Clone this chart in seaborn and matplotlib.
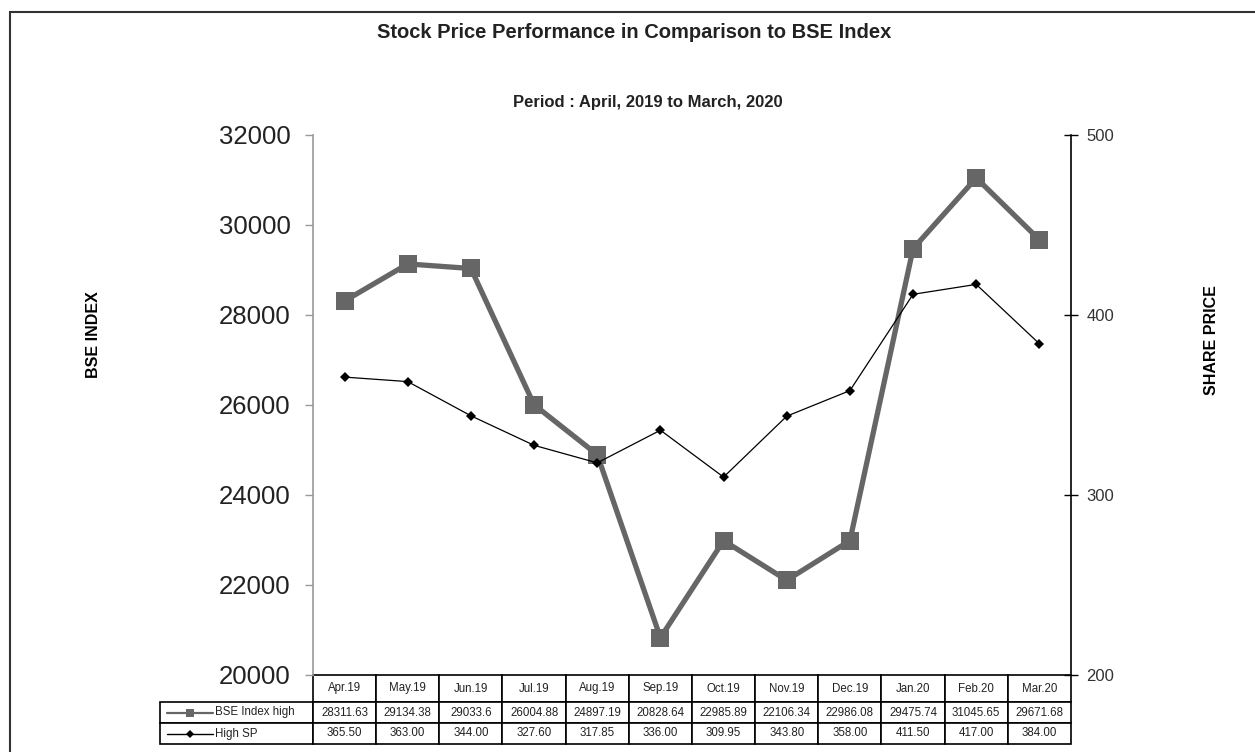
import seaborn as sns
import matplotlib.pyplot as plt
from matplotlib.patches import Rectangle
from matplotlib.lines import Line2D
import pandas as pd

#### data
months = ['Apr.19', 'May.19', 'Jun.19', 'Jul.19', 'Aug.19', 'Sep.19',
          'Oct.19', 'Nov.19', 'Dec.19', 'Jan.20', 'Feb.20', 'Mar.20']
bse_high = [28311.63, 29134.38, 29033.6, 26004.88, 24897.19, 20828.64,
            22985.89, 22106.34, 22986.08, 29475.74, 31045.65, 29671.68]
bse_text = ['28311.63', '29134.38', '29033.6', '26004.88', '24897.19', '20828.64',
            '22985.89', '22106.34', '22986.08', '29475.74', '31045.65', '29671.68']
high_sp = [365.50, 363.00, 344.00, 327.60, 317.85, 336.00,
           309.95, 343.80, 358.00, 411.50, 417.00, 384.00]
left_ticks = [20000, 22000, 24000, 26000, 28000, 30000, 32000]
right_ticks = [200, 300, 400, 500]

df = pd.DataFrame({'month': months, 'pos': range(len(months)),
                   'bse': bse_high, 'sp': high_sp})

sns.set_style('white')
plt.rcParams['font.family'] = ['Liberation Sans', 'DejaVu Sans']

W, H = 1255, 752
fig = plt.figure(figsize=(W / 100, H / 100), dpi=100)
L, R, T, B = 313, 1071, 135, 675
ax = fig.add_axes([L / W, 1 - B / H, (R - L) / W, (B - T) / H])
ax2 = ax.twinx()

bse_col = '#666666'
sns.lineplot(data=df, x='pos', y='bse', ax=ax, color=bse_col, lw=3.8,
             marker='s', markersize=13.5, markeredgewidth=0, zorder=3)
sns.lineplot(data=df, x='pos', y='sp', ax=ax2, color='black', lw=0.9,
             marker='D', markersize=5.5, markeredgewidth=0, zorder=3)

ax.set_xlim(-0.5, len(months) - 0.5)
ax.set_ylim(20000, 32000)
ax2.set_ylim(200, 500)
ax.set_xticks([])
ax.set_xlabel('')
ax.set_ylabel('')
ax2.set_ylabel('')
ax.set_yticks(left_ticks)
ax.set_yticklabels([str(v) for v in left_ticks], fontsize=18.5, color='#222222')
ax.tick_params(axis='y', left=True, length=6, width=1, color='#999999',
               direction='out', pad=10)
ax2.set_yticks(right_ticks)
ax2.set_yticklabels([str(v) for v in right_ticks], fontsize=12, color='#333333')
ax2.tick_params(axis='y', right=True, length=10, width=1, color='black',
                direction='inout', pad=6)

for a in (ax, ax2):
    a.spines['top'].set_visible(False)
    a.spines['bottom'].set_visible(False)
ax.spines['left'].set_color('#999999')
ax.spines['left'].set_linewidth(1.2)
ax.spines['right'].set_visible(False)
ax2.spines['left'].set_visible(False)
ax2.spines['right'].set_color('black')
ax2.spines['right'].set_linewidth(1.2)

# data table under the plot
cell_text = [[''] + months,
             ['BSE Index high'] + bse_text,
             ['High SP'] + ['%.2f' % v for v in high_sp]]
lab_w = L - 160
col_w = (R - L) / len(months)
tot_w = lab_w + col_w * len(months)
tbl_h = 744 - B
tbl = ax.table(cellText=cell_text,
               colWidths=[lab_w / tot_w] + [col_w / tot_w] * len(months),
               cellLoc='center',
               bbox=[-lab_w / (R - L), -tbl_h / (B - T), tot_w / (R - L), tbl_h / (B - T)])
tbl.auto_set_font_size(False)
for (r, c), cell in tbl.get_celld().items():
    cell.set_linewidth(1.2)
    cell.set_edgecolor('black')
    cell.get_text().set_fontsize(8.3)
    cell.get_text().set_color('#222222')
    cell.set_height(27 if r == 0 else 21)
tbl[0, 0].set_visible(False)
for r in (1, 2):
    tbl[r, 0].get_text().set_ha('left')
    tbl[r, 0].PAD = 0.36

# legend keys inside the row label cells
def fx(px):
    return px / W

def fy(py):
    return 1 - py / H

fig.add_artist(Line2D([fx(167), fx(213)], [fy(712.5)] * 2, color=bse_col, lw=1.6, zorder=5))
fig.add_artist(Line2D([fx(190)], [fy(712.5)], color=bse_col, marker='s',
                      markersize=6, markeredgewidth=0, zorder=5))
fig.add_artist(Line2D([fx(167), fx(213)], [fy(733.5)] * 2, color='black', lw=1, zorder=5))
fig.add_artist(Line2D([fx(190)], [fy(733.5)], color='black', marker='D',
                      markersize=4.5, markeredgewidth=0, zorder=5))

# titles and axis names
fig.text(fx(634), fy(33), 'Stock Price Performance in Comparison to BSE Index',
         ha='center', va='center', fontsize=14.5, fontweight='bold', color='#222222')
fig.text(fx(648), fy(103), 'Period : April, 2019 to March, 2020',
         ha='center', va='center', fontsize=12, fontweight='bold', color='#222222')
fig.text(fx(93), fy(335), 'BSE INDEX', rotation=90, ha='center', va='center',
         fontsize=11.5, fontweight='bold', color='black')
fig.text(fx(1211), fy(340), 'SHARE PRICE', rotation=90, ha='center', va='center',
         fontsize=11.5, fontweight='bold', color='black')

# outer frame
fig.add_artist(Rectangle((fx(10), -0.02), 1.05, fy(12) + 0.02, fill=False,
                         edgecolor='#333333', lw=1.5, transform=fig.transFigure))

fig.savefig('out.png', dpi=100)
